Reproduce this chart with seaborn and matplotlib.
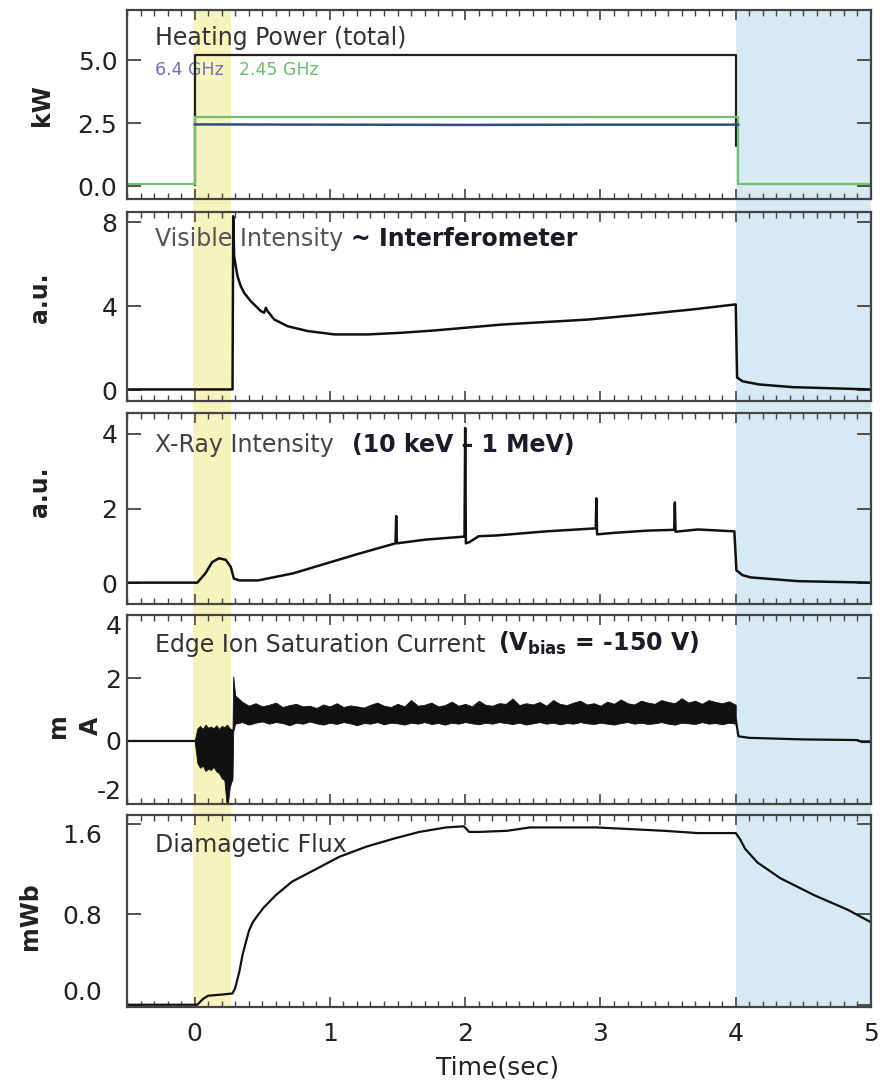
import matplotlib
matplotlib.use("Agg")
import matplotlib.pyplot as plt
from matplotlib.ticker import FixedLocator, MultipleLocator, NullLocator, FormatStrFormatter
import seaborn as sns

# ---------------- data ----------------
# Heating power (kW)
pw_total_t = [0.00, 0.00, 4.00, 4.00]
pw_total_v = [0.05, 5.20, 5.20, 1.60]
pw_245_t = [-0.50, 0.00, 0.00, 4.02, 4.02, 5.00]
pw_245_v = [0.08, 0.08, 2.75, 2.75, 0.08, 0.08]
pw_64_t = [0.00, 1.00, 2.00, 3.00, 4.02]
pw_64_v = [2.46, 2.45, 2.44, 2.45, 2.45]

# Visible intensity (a.u.)
vis_t = [-0.50, 0.28, 0.285, 0.292, 0.304, 0.317, 0.341, 0.366, 0.415, 0.490,
         0.514, 0.527, 0.539, 0.589, 0.688, 0.836, 1.034, 1.280, 1.530, 1.775,
         2.270, 2.910, 3.310, 3.680, 4.000, 4.010, 4.050, 4.170, 4.420, 5.000]
vis_v = [0.05, 0.05, 8.30, 6.40, 5.92, 5.44, 4.97, 4.65, 4.25, 3.78,
         3.70, 3.94, 3.78, 3.38, 3.06, 2.83, 2.67, 2.67, 2.75, 2.86,
         3.14, 3.38, 3.62, 3.86, 4.10, 0.62, 0.44, 0.29, 0.16, 0.05]

# X-ray intensity (a.u.)
xr_t = [-0.50, 0.02, 0.08, 0.13, 0.18, 0.23, 0.267, 0.29, 0.33, 0.47,
        0.73, 0.97, 1.22, 1.485, 1.49, 1.495, 1.71, 1.995, 2.00, 2.005,
        2.03, 2.10, 2.23, 2.60, 2.965, 2.97, 2.975, 3.10, 3.35, 3.545,
        3.55, 3.555, 3.72, 3.99, 4.005, 4.05, 4.11, 4.46, 5.00]
xr_v = [0.02, 0.02, 0.27, 0.57, 0.67, 0.63, 0.44, 0.13, 0.08, 0.08,
        0.27, 0.53, 0.80, 1.07, 1.80, 1.07, 1.17, 1.25, 4.15, 1.07,
        1.10, 1.26, 1.28, 1.39, 1.47, 2.27, 1.31, 1.35, 1.41, 1.43,
        2.16, 1.38, 1.44, 1.39, 0.35, 0.22, 0.16, 0.06, 0.02]

# Edge ion saturation current (mA): quiet segments
ion_pre_t = [-0.50, 0.00]
ion_pre_v = [0.00, 0.00]
ion_post_t = [4.00, 4.02, 4.10, 4.50, 4.90, 4.93, 5.00]
ion_post_v = [0.70, 0.15, 0.10, 0.05, 0.03, -0.03, -0.03]
# fluctuating segment: envelope of the signal
ion_t = [0.00, 0.02, 0.04, 0.06, 0.08, 0.10, 0.12, 0.14, 0.16, 0.18,
         0.20, 0.22, 0.24, 0.26, 0.28, 0.285,
         0.30, 0.35, 0.40, 0.45, 0.50, 0.55, 0.60, 0.65, 0.70, 0.75,
         0.80, 0.85, 0.90, 0.95, 1.00, 1.05, 1.10, 1.15, 1.20, 1.25,
         1.30, 1.35, 1.40, 1.45, 1.50, 1.55, 1.60, 1.65, 1.70, 1.75,
         1.80, 1.85, 1.90, 1.95, 2.00, 2.05, 2.10, 2.15, 2.20, 2.25,
         2.30, 2.35, 2.40, 2.45, 2.50, 2.55, 2.60, 2.65, 2.70, 2.75,
         2.80, 2.85, 2.90, 2.95, 3.00, 3.05, 3.10, 3.15, 3.20, 3.25,
         3.30, 3.35, 3.40, 3.45, 3.50, 3.55, 3.60, 3.65, 3.70, 3.75,
         3.80, 3.85, 3.90, 3.95, 4.00]
ion_hi = [0.00, 0.40, 0.48, 0.38, 0.52, 0.42, 0.46, 0.40, 0.50, 0.38,
          0.48, 0.44, 0.52, 0.40, 0.36, 2.05,
          1.45, 1.25, 1.12, 1.20, 1.10, 1.15, 1.22, 1.08, 1.14, 1.18,
          1.10, 1.12, 1.05, 1.16, 1.10, 1.20, 1.08, 1.13, 1.10, 1.06,
          1.15, 1.22, 1.12, 1.08, 1.18, 1.10, 1.30, 1.12, 1.15, 1.22,
          1.10, 1.14, 1.25, 1.12, 1.18, 1.10, 1.28, 1.15, 1.12, 1.20,
          1.18, 1.35, 1.14, 1.20, 1.16, 1.24, 1.12, 1.30, 1.18, 1.14,
          1.22, 1.28, 1.16, 1.20, 1.12, 1.25, 1.18, 1.32, 1.20, 1.16,
          1.28, 1.22, 1.18, 1.30, 1.24, 1.20, 1.36, 1.22, 1.28, 1.18,
          1.30, 1.24, 1.20, 1.26, 1.15]
ion_lo = [0.00, -0.70, -0.85, -0.78, -0.95, -0.88, -0.92, -0.82, -0.96, -1.02,
          -1.18, -1.24, -2.20, -1.45, -1.20, 0.30,
          0.55, 0.60, 0.52, 0.58, 0.62, 0.55, 0.60, 0.57, 0.50, 0.58,
          0.55, 0.62, 0.56, 0.52, 0.58, 0.54, 0.60, 0.56, 0.50, 0.57,
          0.55, 0.60, 0.53, 0.58, 0.56, 0.52, 0.58, 0.55, 0.60, 0.54,
          0.57, 0.52, 0.58, 0.55, 0.60, 0.56, 0.53, 0.58, 0.55, 0.60,
          0.57, 0.54, 0.58, 0.52, 0.56, 0.60, 0.55, 0.58, 0.53, 0.57,
          0.55, 0.60, 0.56, 0.54, 0.58, 0.55, 0.52, 0.57, 0.60, 0.55,
          0.58, 0.54, 0.56, 0.60, 0.55, 0.52, 0.58, 0.56, 0.54, 0.60,
          0.55, 0.57, 0.53, 0.58, 0.55]

# Diamagnetic flux (mWb)
dia_t = [-0.50, 0.02, 0.06, 0.10, 0.20, 0.28, 0.30, 0.33, 0.354, 0.38,
         0.403, 0.43, 0.465, 0.51, 0.551, 0.60, 0.72, 0.88, 1.07, 1.27,
         1.47, 1.66, 1.86, 1.99, 2.03, 2.10, 2.31, 2.48, 2.97, 3.47,
         3.72, 4.00, 4.03, 4.07, 4.16, 4.33, 4.58, 4.83, 5.00]
dia_v = [0.00, 0.00, 0.05, 0.08, 0.09, 0.10, 0.15, 0.29, 0.44, 0.56,
         0.66, 0.73, 0.79, 0.86, 0.91, 0.97, 1.09, 1.19, 1.31, 1.40,
         1.47, 1.53, 1.57, 1.58, 1.53, 1.53, 1.54, 1.57, 1.57, 1.54,
         1.52, 1.52, 1.47, 1.38, 1.26, 1.12, 0.97, 0.84, 0.73]

# phases: ECRH breakdown window and afterglow
breakdown_span = (-0.01, 0.27)
afterglow_span = (4.00, 5.00)

x_ticks = [0, 1, 2, 3, 4, 5]

# ---------------- style ----------------
sns.set_theme(style="ticks")
plt.rcParams["font.family"] = ["DejaVu Sans"]
plt.rcParams["axes.unicode_minus"] = False

W, H = 881, 1080
fig = plt.figure(figsize=(W / 100, H / 100), dpi=100)
fig.patch.set_facecolor("white")

LEFT_PX, RIGHT_PX = 127, 871
panel_px = [(10, 199), (212, 401), (413, 604), (615, 804), (815, 1007)]


def box(top, bottom):
    return [LEFT_PX / W, 1 - bottom / H, (RIGHT_PX - LEFT_PX) / W, (bottom - top) / H]


SPINE = "#444444"
YELLOW = "#f6f4bc"
BLUE = "#d7eaf2"

# background strip carrying the shaded time windows across all panels
bg = fig.add_axes(box(panel_px[0][0], panel_px[-1][1]), zorder=-1)
bg.set_xlim(-0.5, 5.0)
bg.axvspan(*breakdown_span, color=YELLOW, lw=0)
bg.axvspan(*afterglow_span, color=BLUE, lw=0)
bg.axis("off")

axes = []
for i, (top, bottom) in enumerate(panel_px):
    ax = fig.add_axes(box(top, bottom))
    ax.set_facecolor("none")
    ax.set_xlim(-0.5, 5.0)
    ax.xaxis.set_major_locator(FixedLocator(x_ticks))
    ax.xaxis.set_minor_locator(MultipleLocator(0.1))
    ax.tick_params(axis="x", which="both", direction="in", top=True, bottom=True, color=SPINE)
    ax.tick_params(axis="x", which="major", length=7, width=1.2)
    ax.tick_params(axis="x", which="minor", length=4, width=1.0)
    ax.tick_params(axis="y", which="major", direction="in", left=True, right=True,
                   length=10, width=1.3, color=SPINE, labelsize=18, labelcolor="#222222")
    ax.yaxis.set_minor_locator(NullLocator())
    for s in ax.spines.values():
        s.set_color(SPINE)
        s.set_linewidth(1.6)
    if i < len(panel_px) - 1:
        ax.tick_params(axis="x", labelbottom=False)
    else:
        ax.tick_params(axis="x", labelsize=18, labelcolor="#222222", pad=11)
    axes.append(ax)

ax1, ax2, ax3, ax4, ax5 = axes


def trace(ax, t, v, color="#111111", lw=1.6):
    sns.lineplot(x=t, y=v, ax=ax, color=color, lw=lw, estimator=None,
                 sort=False, legend=False, zorder=2)


# panel 1: heating power
trace(ax1, pw_total_t, pw_total_v, color="#222222", lw=1.6)
trace(ax1, pw_245_t, pw_245_v, color="#72c072", lw=1.6)
trace(ax1, pw_64_t, pw_64_v, color="#2f4d7a", lw=1.8)
ax1.set_ylim(-0.5, 7.0)
ax1.yaxis.set_major_locator(FixedLocator([0.0, 2.5, 5.0]))
ax1.yaxis.set_major_formatter(FormatStrFormatter("%.1f"))
ax1.tick_params(axis="y", pad=7)

# panel 2: visible light
trace(ax2, vis_t, vis_v, lw=1.8)
ax2.set_ylim(-0.5, 8.5)
ax2.yaxis.set_major_locator(FixedLocator([0, 4, 8]))
ax2.yaxis.set_major_formatter(FormatStrFormatter("%d"))
ax2.tick_params(axis="y", pad=7)

# panel 3: x-rays
trace(ax3, xr_t, xr_v, lw=1.8)
ax3.set_ylim(-0.55, 4.55)
ax3.yaxis.set_major_locator(FixedLocator([0, 2, 4]))
ax3.yaxis.set_major_formatter(FormatStrFormatter("%d"))
ax3.tick_params(axis="y", pad=7)

# panel 4: edge ion saturation current
trace(ax4, ion_pre_t, ion_pre_v, lw=1.6)
ax4.fill_between(ion_t, ion_lo, ion_hi, color="#111111", lw=0.6, zorder=2)
trace(ax4, ion_post_t, ion_post_v, lw=1.6)
ax4.set_ylim(-2.0, 4.0)
ax4.yaxis.set_major_locator(FixedLocator([-2, 0, 2, 4]))
ax4.yaxis.set_major_formatter(FormatStrFormatter("%d"))
ax4.tick_params(axis="y", pad=4)

# panel 5: diamagnetic flux
trace(ax5, dia_t, dia_v, lw=1.6)
ax5.set_ylim(-0.02, 1.68)
ax5.yaxis.set_major_locator(FixedLocator([0.0, 0.8, 1.6]))
ax5.yaxis.set_major_formatter(FormatStrFormatter("%.1f"))
ax5.tick_params(axis="y", pad=18)

for ax in (ax4, ax5):
    labels = ax.get_yticklabels()
    labels[0].set_verticalalignment("bottom")
    labels[-1].set_verticalalignment("top")
for ax in axes:
    ax.set_xlabel("")
    ax.set_ylabel("")

# ---------------- in-panel titles ----------------
TFS = 17
X0 = (155 - LEFT_PX) / (RIGHT_PX - LEFT_PX)


def ypos(i, y_px):
    top, bottom = panel_px[i]
    return (bottom - y_px) / (bottom - top)


def follow(ax, prev, text, gap_px, **kw):
    return ax.annotate(text, xy=(1, 0), xycoords=prev, xytext=(gap_px * 0.72, 0),
                       textcoords="offset points", ha="left", va="bottom", zorder=1, **kw)


ax1.text(X0, ypos(0, 38), "Heating Power (total)", transform=ax1.transAxes,
         fontsize=TFS, color="#333333", va="center", ha="left", zorder=1)
t64 = ax1.text(X0, ypos(0, 70), "6.4 GHz", transform=ax1.transAxes,
               fontsize=12.5, color="#6f73b5", va="center", ha="left", zorder=1)
follow(ax1, t64, "2.45 GHz", 15, fontsize=12.5, color="#6cc06c")

tv = ax2.text(X0, ypos(1, 239), "Visible Intensity", transform=ax2.transAxes,
              fontsize=TFS, color="#555555", va="center", ha="left", zorder=1)
follow(ax2, tv, "~ Interferometer", 8, fontsize=TFS, color="#1c1c28", fontweight="bold")

tx = ax3.text(X0, ypos(2, 445), "X-Ray Intensity", transform=ax3.transAxes,
              fontsize=TFS, color="#444444", va="center", ha="left", zorder=1)
follow(ax3, tx, "(10 keV \u2013 1 MeV)", 18, fontsize=TFS, color="#1c1c28", fontweight="bold")

te = ax4.text(X0, ypos(3, 645), "Edge Ion Saturation Current", transform=ax4.transAxes,
              fontsize=TFS, color="#333333", va="center", ha="left", zorder=1)
follow(ax4, te, r"(V$_{\mathbf{bias}}$ = -150 V)", 12, fontsize=TFS, color="#1c1c28",
       fontweight="bold")

ax5.text(X0, ypos(4, 845), "Diamagetic Flux", transform=ax5.transAxes,
         fontsize=TFS, color="#333333", va="center", ha="left", zorder=1)

# ---------------- axis labels ----------------
def ftext(x_px, y_px, s, **kw):
    fig.text(x_px / W, 1 - y_px / H, s, ha="center", va="center", **kw)


YL = dict(rotation=90, fontsize=17, fontweight="bold", color="#222222")
ftext(42, 105, "kW", **YL)
ftext(40, 298, "a.u.", **YL)
ftext(40, 492, "a.u.", **YL)
ftext(58, 726, "m", **YL)
ftext(91, 726, "A", **YL)
ftext(30, 916, "mWb", **YL)
ftext(498, 1067, "Time(sec)", fontsize=18, color="#222222")

fig.savefig("out.png", dpi=100, facecolor="white")
